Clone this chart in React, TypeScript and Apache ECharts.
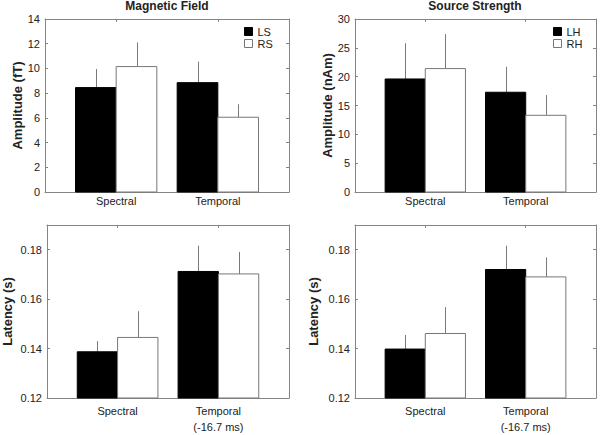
import React, { useEffect, useRef } from "react";
import * as echarts from "echarts";

const conditions = ["Spectral", "Temporal"];
const bottomConditions = ["Spectral", "Temporal\n(-16.7 ms)"];

const ampTicks = [0, 2, 4, 6, 8, 10, 12, 14];
const srcTicks = [0, 5, 10, 15, 20, 25, 30];
const latTicks = [0.12, 0.14, 0.16, 0.18];

// Magnetic field amplitude (fT)
const ampLS = [8.45, 8.85];
const ampLSErr = [1.5, 1.7];
const ampRS = [10.15, 6.05];
const ampRSErr = [1.95, 1.05];

// Source strength amplitude (nAm)
const srcLH = [19.6, 17.3];
const srcLHErr = [6.2, 4.4];
const srcRH = [21.4, 13.3];
const srcRHErr = [6.0, 3.5];

// Magnetic field latency (s)
const latLS = [0.1387, 0.1712];
const latLSErr = [0.0043, 0.0104];
const latRS = [0.1445, 0.1702];
const latRSErr = [0.0106, 0.0089];

// Source latency (s)
const latLH = [0.1398, 0.172];
const latLHErr = [0.0057, 0.0096];
const latRH = [0.1461, 0.169];
const latRHErr = [0.0107, 0.0079];

const AXIS_COLOR = "#858585";
const TEXT_COLOR = "#222";
const FONT = "Liberation Sans";

type Panel = {
  grid: { left: number; top: number; width: number; height: number };
  min: number;
  max: number;
  ticks: number[];
  yName: string;
  nameGap: number;
  labels: string[];
  labelMargin: number;
  left: { name: string; vals: number[]; errs: number[] };
  right: { name: string; vals: number[]; errs: number[] };
  decimals: number;
};

const panels: Panel[] = [
  {
    grid: { left: 45, top: 19, width: 244, height: 173 },
    min: 0, max: 14, ticks: ampTicks, yName: "Amplitude (fT)", nameGap: 21, labels: conditions, labelMargin: 1,
    left: { name: "LS", vals: ampLS, errs: ampLSErr },
    right: { name: "RS", vals: ampRS, errs: ampRSErr },
    decimals: 0,
  },
  {
    grid: { left: 355, top: 19, width: 241, height: 173 },
    min: 0, max: 30, ticks: srcTicks, yName: "Amplitude (nAm)", nameGap: 21, labels: conditions, labelMargin: 1,
    left: { name: "LH", vals: srcLH, errs: srcLHErr },
    right: { name: "RH", vals: srcRH, errs: srcRHErr },
    decimals: 0,
  },
  {
    grid: { left: 45, top: 225, width: 244, height: 173 },
    min: 0.12, max: 0.19, ticks: latTicks, yName: "Latency (s)", nameGap: 33, labels: bottomConditions, labelMargin: 5,
    left: { name: "LS latency", vals: latLS, errs: latLSErr },
    right: { name: "RS latency", vals: latRS, errs: latRSErr },
    decimals: 2,
  },
  {
    grid: { left: 355, top: 225, width: 241, height: 173 },
    min: 0.12, max: 0.19, ticks: latTicks, yName: "Latency (s)", nameGap: 35, labels: bottomConditions, labelMargin: 5,
    left: { name: "LH latency", vals: latLH, errs: latLHErr },
    right: { name: "RH latency", vals: latRH, errs: latRHErr },
    decimals: 2,
  },
];

export default function App() {
  const ref = useRef<HTMLDivElement>(null);
  useEffect(() => {
    document.body.style.margin = "0";
    if (!ref.current) return;
    const chart = echarts.init(ref.current, undefined, { renderer: "svg" });

    const grids: any[] = [];
    const xAxes: any[] = [];
    const yAxes: any[] = [];
    const series: any[] = [];

    panels.forEach((p, g) => {
      grids.push({ ...p.grid, show: false, containLabel: false });
      const tickStyle = { color: AXIS_COLOR, width: 1 };
      const lineStyle = { color: AXIS_COLOR, width: 1 };
      xAxes.push({
        gridIndex: g, type: "value", min: 0.3, max: 2.7, position: "bottom",
        axisLine: { show: true, onZero: false, lineStyle },
        axisTick: { show: true, inside: true, length: 3, customValues: [1, 2], lineStyle: tickStyle },
        axisLabel: {
          show: true, customValues: [1, 2], margin: p.labelMargin, color: TEXT_COLOR, fontSize: 11, fontFamily: FONT,
          lineHeight: 16, verticalAlign: "top",
          formatter: (v: number) => p.labels[Math.round(v) - 1] ?? "",
        },
        splitLine: { show: false },
      });
      xAxes.push({
        gridIndex: g, type: "value", min: 0.3, max: 2.7, position: "top",
        axisLine: { show: true, onZero: false, lineStyle },
        axisTick: { show: true, inside: true, length: 3, customValues: [1, 2], lineStyle: tickStyle },
        axisLabel: { show: false },
        splitLine: { show: false },
      });
      yAxes.push({
        gridIndex: g, type: "value", min: p.min, max: p.max, position: "left",
        axisLine: { show: true, onZero: false, lineStyle },
        axisTick: { show: true, inside: true, length: 3, customValues: p.ticks, lineStyle: tickStyle },
        axisLabel: {
          show: true, customValues: p.ticks, margin: 5, color: TEXT_COLOR, fontSize: 11, fontFamily: FONT,
          formatter: (v: number) => v.toFixed(p.decimals),
        },
        splitLine: { show: false },
        name: p.yName, nameLocation: "middle", nameGap: p.nameGap,
        nameTextStyle: { color: TEXT_COLOR, fontSize: 13, fontWeight: "bold", fontFamily: FONT },
      });
      yAxes.push({
        gridIndex: g, type: "value", min: p.min, max: p.max, position: "right",
        axisLine: { show: true, onZero: false, lineStyle },
        axisTick: { show: true, inside: true, length: 3, customValues: p.ticks, lineStyle: tickStyle },
        axisLabel: { show: false },
        splitLine: { show: false },
      });

      const sides = [
        { s: p.left, off: -0.4, fill: "#000", stroke: "#000" },
        { s: p.right, off: 0, fill: "#fff", stroke: "#777" },
      ];
      sides.forEach((side) => {
        series.push({
          type: "custom",
          name: side.s.name,
          xAxisIndex: 2 * g,
          yAxisIndex: 2 * g,
          clip: false,
          data: side.s.vals.map((v, i) => [i + 1, v, side.s.errs[i]]),
          itemStyle: { color: side.fill, borderColor: side.stroke },
          renderItem: (_params: any, api: any) => {
            const x = api.value(0) as number;
            const v = api.value(1) as number;
            const e = api.value(2) as number;
            const p0 = api.coord([x + side.off, p.min]);
            const p1 = api.coord([x + side.off + 0.4, v]);
            const top = api.coord([x + side.off + 0.2, v + e]);
            const cx = Math.round(top[0]) + 0.5;
            return {
              type: "group",
              children: [
                {
                  type: "line",
                  shape: { x1: cx, y1: p1[1], x2: cx, y2: top[1] },
                  style: { stroke: "#7a7a7a", lineWidth: 1 },
                },
                {
                  type: "rect",
                  shape: { x: p0[0], y: p1[1], width: p1[0] - p0[0], height: p0[1] - p1[1] },
                  style: { fill: side.fill, stroke: side.stroke, lineWidth: 1 },
                },
              ],
            };
          },
        });
      });
    });

    const legendText = { color: TEXT_COLOR, fontSize: 11, fontFamily: FONT, lineHeight: 11 };
    const titleStyle = { color: TEXT_COLOR, fontSize: 12, fontWeight: "bold", fontFamily: FONT };
    const option: any = {
      animation: false,
      backgroundColor: "#fff",
      title: [
        { text: "Magnetic Field", left: 167, top: 0, padding: 0, textAlign: "center", textStyle: titleStyle },
        { text: "Source Strength", left: 475, top: 0, padding: 0, textAlign: "center", textStyle: titleStyle },
      ],
      legend: [
        {
          orient: "vertical", left: 244, top: 26, padding: 0, itemWidth: 8, itemHeight: 8, itemGap: 1, itemTextGap: 3,
          icon: "rect", textStyle: legendText, selectedMode: false,
          data: [
            { name: "LS", itemStyle: { color: "#000", borderColor: "#000", borderWidth: 1 } },
            { name: "RS", itemStyle: { color: "#fff", borderColor: "#777", borderWidth: 1 } },
          ],
        },
        {
          orient: "vertical", left: 553, top: 26, padding: 0, itemWidth: 8, itemHeight: 8, itemGap: 1, itemTextGap: 3,
          icon: "rect", textStyle: legendText, selectedMode: false,
          data: [
            { name: "LH", itemStyle: { color: "#000", borderColor: "#000", borderWidth: 1 } },
            { name: "RH", itemStyle: { color: "#fff", borderColor: "#777", borderWidth: 1 } },
          ],
        },
      ],
      grid: grids,
      xAxis: xAxes,
      yAxis: yAxes,
      series,
    };
    chart.setOption(option);
    return () => chart.dispose();
  }, []);
  return <div ref={ref} style={{ width: 600, height: 435 }} />;
}
